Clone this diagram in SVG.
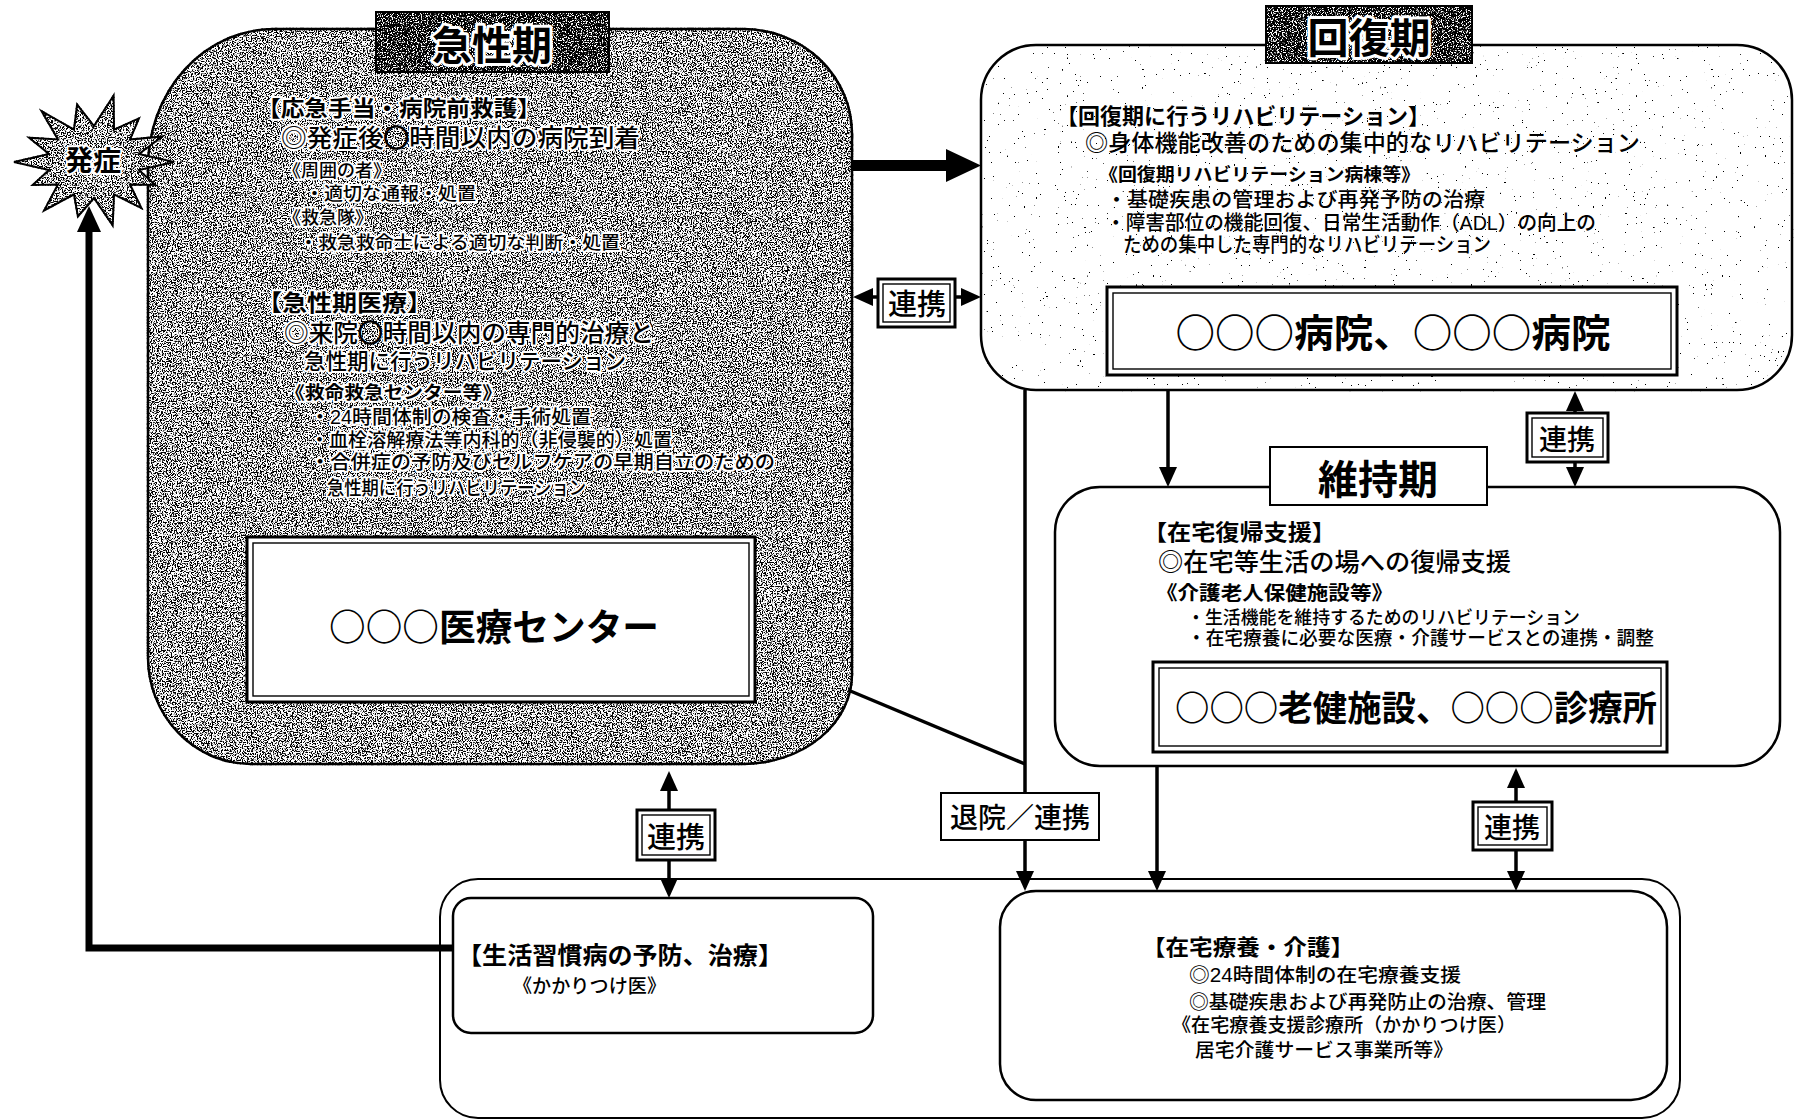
<svg xmlns="http://www.w3.org/2000/svg" width="1798" height="1120" viewBox="0 0 1798 1120">
<defs>
<style>
.jp{font-family:'Liberation Sans','Noto Sans CJK JP',sans-serif;fill:#000;font-weight:500}
.cj{font-family:'Noto Sans CJK JP',sans-serif;font-weight:900;stroke:#000;stroke-width:1.2}
.big{font-family:'Noto Sans CJK JP','Liberation Sans',sans-serif;font-weight:700;text-anchor:middle;fill:#000}
.b{font-weight:700}
.mid{text-anchor:middle}
.halo{stroke:#fff;stroke-width:4;stroke-linejoin:round;paint-order:stroke}
.halo2{stroke:#fff;stroke-width:6;stroke-linejoin:round;paint-order:stroke}
.box{fill:#fff;stroke:#000;stroke-width:2.5}
.thin{fill:none;stroke:#000;stroke-width:1.4}
.dbl{fill:#fff;stroke:#000;stroke-width:3}
.ln{fill:none;stroke:#000;stroke-width:3.5}
</style>
<filter id="tex" x="-2%" y="-2%" width="104%" height="104%" color-interpolation-filters="sRGB">
<feTurbulence type="fractalNoise" baseFrequency="0.8" numOctaves="2" seed="4" result="n"/>
<feColorMatrix in="n" type="matrix" values="0 0 0 0 0 0 0 0 0 0 0 0 0 0 0 -10 0 0 0 5.2" result="k"/>
<feComposite in="k" in2="SourceAlpha" operator="in" result="kc"/>
<feMerge><feMergeNode in="SourceGraphic"/><feMergeNode in="kc"/></feMerge>
</filter>
<filter id="dark" x="-2%" y="-2%" width="104%" height="104%" color-interpolation-filters="sRGB">
<feTurbulence type="fractalNoise" baseFrequency="0.8" numOctaves="2" seed="9" result="n"/>
<feColorMatrix in="n" type="matrix" values="0 0 0 0 0 0 0 0 0 0 0 0 0 0 0 -10 0 0 0 6.3" result="k"/>
<feComposite in="k" in2="SourceAlpha" operator="in" result="kc"/>
<feMerge><feMergeNode in="SourceGraphic"/><feMergeNode in="kc"/></feMerge>
</filter>
<filter id="spk" x="-2%" y="-2%" width="104%" height="104%" color-interpolation-filters="sRGB">
<feTurbulence type="fractalNoise" baseFrequency="0.45" numOctaves="2" seed="2" result="n"/>
<feColorMatrix in="n" type="matrix" values="0 0 0 0 0 0 0 0 0 0 0 0 0 0 0 -40 0 0 0 9.2" result="k"/>
<feComposite in="k" in2="SourceAlpha" operator="in" result="kc"/>
<feMerge><feMergeNode in="SourceGraphic"/><feMergeNode in="kc"/></feMerge>
</filter>
<marker id="ah" viewBox="0 0 20 18" refX="0" refY="9" markerWidth="20" markerHeight="18" markerUnits="userSpaceOnUse" orient="auto-start-reverse">
<path d="M0,0 L20,9 L0,18 Z" fill="#000"/>
</marker>
<marker id="ahb" viewBox="0 0 26 24" refX="0" refY="12" markerWidth="26" markerHeight="24" markerUnits="userSpaceOnUse" orient="auto">
<path d="M0,0 L26,12 L0,24 Z" fill="#000"/>
</marker>
</defs>
<rect width="1798" height="1120" fill="#fff"/>

<g id="outer-container">
<rect x="440" y="879" width="1240" height="239" rx="38" fill="none" stroke="#000" stroke-width="2"/>
</g>

<g id="home-care">
<rect class="box" x="1000" y="891" width="667" height="209" rx="36"/>
<text class="jp b" x="1142" y="955" font-size="22" textLength="212" lengthAdjust="spacingAndGlyphs">【在宅療養・介護】</text>
<text class="jp" x="1189" y="982" font-size="19.5" textLength="272" lengthAdjust="spacingAndGlyphs">◎24時間体制の在宅療養支援</text>
<text class="jp" x="1189" y="1009" font-size="19.5" textLength="357" lengthAdjust="spacingAndGlyphs">◎基礎疾患および再発防止の治療、管理</text>
<text class="jp" x="1172" y="1032" font-size="19" textLength="344" lengthAdjust="spacingAndGlyphs">《在宅療養支援診療所（かかりつけ医）</text>
<text class="jp" x="1195" y="1057" font-size="19" textLength="258" lengthAdjust="spacingAndGlyphs">居宅介護サービス事業所等》</text>
</g>

<g id="lifestyle">
<rect class="box" x="453" y="898" width="420" height="135" rx="18"/>
<text class="jp b" x="457" y="964" font-size="24" textLength="326" lengthAdjust="spacingAndGlyphs">【生活習慣病の予防、治療】</text>
<text class="jp" x="513" y="993" font-size="19" textLength="153" lengthAdjust="spacingAndGlyphs">《かかりつけ医》</text>
</g>

<g id="maintenance">
<rect class="box" x="1055" y="487" width="725" height="279" rx="45"/>
<rect x="1270" y="447" width="217" height="58" fill="#fff" stroke="#000" stroke-width="2"/>
<text class="jp b mid" x="1378" y="494" font-size="40">維持期</text>
<text class="jp b" x="1143" y="540" font-size="22" textLength="193" lengthAdjust="spacingAndGlyphs">【在宅復帰支援】</text>
<text class="jp" x="1158" y="571" font-size="25" textLength="353" lengthAdjust="spacingAndGlyphs">◎在宅等生活の場への復帰支援</text>
<text class="jp b" x="1156" y="600" font-size="19.5" textLength="237" lengthAdjust="spacingAndGlyphs">《介護老人保健施設等》</text>
<text class="jp" x="1187" y="624" font-size="18.5" textLength="393" lengthAdjust="spacingAndGlyphs">・生活機能を維持するためのリハビリテーション</text>
<text class="jp" x="1187" y="645" font-size="19.5" textLength="467" lengthAdjust="spacingAndGlyphs">・在宅療養に必要な医療・介護サービスとの連携・調整</text>
<rect class="dbl" x="1153" y="662" width="514" height="90"/>
<rect class="thin" x="1159" y="668" width="502" height="78"/>
<text class="big" x="1416" y="721" font-size="35" textLength="482" lengthAdjust="spacingAndGlyphs">○○○老健施設、○○○診療所</text>
</g>

<g id="recovery">
<rect x="981" y="45" width="811" height="345" rx="55" fill="#fff" stroke="#000" stroke-width="2.5" filter="url(#spk)"/>
<rect x="1266" y="6" width="206" height="57" fill="#fff" stroke="#000" stroke-width="2" filter="url(#dark)"/>
<text class="jp b mid halo2" x="1369" y="53" font-size="41">回復期</text>
<text class="jp b" x="1056" y="124" font-size="22" textLength="374" lengthAdjust="spacingAndGlyphs">【回復期に行うリハビリテーション】</text>
<text class="jp" x="1085" y="151" font-size="23" textLength="555" lengthAdjust="spacingAndGlyphs">◎身体機能改善のための集中的なリハビリテーション</text>
<text class="jp b" x="1099" y="181" font-size="18" textLength="321" lengthAdjust="spacingAndGlyphs">《回復期リハビリテーション病棟等》</text>
<text class="jp" x="1106" y="207" font-size="20" textLength="379" lengthAdjust="spacingAndGlyphs">・基礎疾患の管理および再発予防の治療</text>
<text class="jp" x="1106" y="230" font-size="20" textLength="490" lengthAdjust="spacingAndGlyphs">・障害部位の機能回復、日常生活動作（ADL）の向上の</text>
<text class="jp" x="1123" y="252" font-size="20" textLength="368" lengthAdjust="spacingAndGlyphs">ための集中した専門的なリハビリテーション</text>
<rect class="dbl" x="1107" y="287" width="570" height="88"/>
<rect class="thin" x="1113" y="293" width="558" height="76"/>
<text class="big" x="1393" y="347" font-size="39" textLength="435" lengthAdjust="spacingAndGlyphs">○○○病院、○○○病院</text>
</g>

<g id="acute">
<path d="M274,29 L743,29 A109,105 0 0 1 852,134 L852,674 A109,90 0 0 1 743,764 L251,764 A103,107 0 0 1 148,657 L148,167 A126,138 0 0 1 274,29 Z" fill="#fff" stroke="#000" stroke-width="2.5" filter="url(#tex)"/>
<rect x="376" y="12" width="233" height="60" fill="#fff" stroke="#000" stroke-width="2" filter="url(#dark)"/>
<text class="jp b mid halo2" x="492" y="60" font-size="40">急性期</text>
<text class="jp b halo" x="257" y="116" font-size="22" textLength="284" lengthAdjust="spacingAndGlyphs">【応急手当・病院前救護】</text>
<text class="jp halo" x="281" y="147" font-size="25" textLength="359" lengthAdjust="spacingAndGlyphs">◎発症後<tspan class="cj">○</tspan>時間以内の病院到着</text>
<text class="jp halo" x="283" y="177" font-size="18">《周囲の者》</text>
<text class="jp halo" x="305" y="200" font-size="18" textLength="171" lengthAdjust="spacingAndGlyphs">・適切な通報・処置</text>
<text class="jp halo" x="283" y="224" font-size="18">《救急隊》</text>
<text class="jp halo" x="299" y="249" font-size="18" textLength="321" lengthAdjust="spacingAndGlyphs">・救急救命士による適切な判断・処置</text>
<text class="jp b halo" x="257" y="311" font-size="23" textLength="175" lengthAdjust="spacingAndGlyphs">【急性期医療】</text>
<text class="jp halo" x="284" y="342" font-size="25" textLength="370" lengthAdjust="spacingAndGlyphs">◎来院<tspan class="cj">○</tspan>時間以内の専門的治療と</text>
<text class="jp halo" x="304" y="369" font-size="22" textLength="322" lengthAdjust="spacingAndGlyphs">急性期に行うリハビリテーション</text>
<text class="jp b halo" x="285" y="399" font-size="18" textLength="217" lengthAdjust="spacingAndGlyphs">《救命救急センター等》</text>
<text class="jp halo" x="310" y="424" font-size="19.5" textLength="281" lengthAdjust="spacingAndGlyphs">・24時間体制の検査・手術処置</text>
<text class="jp halo" x="310" y="447" font-size="19" textLength="362" lengthAdjust="spacingAndGlyphs">・血栓溶解療法等内科的（非侵襲的）処置</text>
<text class="jp halo" x="310" y="469" font-size="19.5" textLength="465" lengthAdjust="spacingAndGlyphs">・合併症の予防及びセルフケアの早期自立のための</text>
<text class="jp halo" x="327" y="495" font-size="19" textLength="259" lengthAdjust="spacingAndGlyphs">急性期に行うリハビリテーション</text>
<rect class="dbl" x="247" y="537" width="508" height="165"/>
<rect class="thin" x="253" y="543" width="496" height="153"/>
<text class="big" x="494" y="641" font-size="37" textLength="330" lengthAdjust="spacingAndGlyphs">○○○医療センター</text>
</g>

<g id="onset">
<polygon points="174,162 138.9,170 155.3,184.9 130,184.5 141.4,208.1 114,194.4 112.7,225.5 94,198 77.9,216.4 74,194.4 44.1,210.5 58,184.5 32.7,184.9 49.1,170 14,162 49.1,154 29.1,137.8 58,139.5 41.6,111.1 74,129.6 77.1,104.6 94,126 113.6,95.5 114,129.6 138.9,118.4 130,139.5 162.5,136.4 138.9,154" fill="#fff" stroke="#000" stroke-width="2" stroke-linejoin="miter" filter="url(#tex)"/>
<text class="jp b mid halo" x="93" y="171" font-size="28">発症</text>
</g>

<g id="connectors">
<path d="M853,160 H946 V149 L981,165.5 L946,182 V171 H853 Z" fill="#000"/>
<line class="ln" x1="873" y1="297" x2="961" y2="297" stroke-width="3" marker-start="url(#ah)" marker-end="url(#ah)"/>
<line class="ln" x1="1168" y1="390" x2="1168" y2="467" stroke-width="4.5" marker-end="url(#ah)"/>
<line class="ln" x1="1575" y1="411" x2="1575" y2="467" marker-start="url(#ah)" marker-end="url(#ah)"/>
<line class="ln" x1="1025" y1="390" x2="1025" y2="871" stroke-width="2.7" marker-end="url(#ah)"/>
<line class="ln" x1="848" y1="690" x2="1025" y2="764" stroke-width="3"/>
<line class="ln" x1="1157" y1="766" x2="1157" y2="871" marker-end="url(#ah)"/>
<line class="ln" x1="1516" y1="788" x2="1516" y2="871" marker-start="url(#ah)" marker-end="url(#ah)"/>
<line class="ln" x1="669" y1="791" x2="669" y2="878" marker-start="url(#ah)" marker-end="url(#ah)"/>
<polyline points="453,948 89,948 89,232" fill="none" stroke="#000" stroke-width="7" stroke-linejoin="miter" marker-end="url(#ahb)"/>

<g id="label-renkei-a">
<rect class="dbl" x="878" y="279" width="77" height="48" stroke-width="2.5"/>
<rect class="thin" x="883" y="284" width="67" height="38"/>
<text class="jp mid" x="917" y="315" font-size="29">連携</text>
</g>
<g id="label-renkei-b">
<rect class="dbl" x="1527" y="413" width="81" height="49" stroke-width="2.5"/>
<rect class="thin" x="1532" y="418" width="71" height="39"/>
<text class="jp mid" x="1567" y="450" font-size="28">連携</text>
</g>
<g id="label-renkei-c">
<rect class="dbl" x="637" y="810" width="78" height="50" stroke-width="2.5"/>
<rect class="thin" x="642" y="815" width="68" height="40"/>
<text class="jp mid" x="676" y="848" font-size="29">連携</text>
</g>
<g id="label-renkei-d">
<rect class="dbl" x="1473" y="802" width="79" height="48" stroke-width="2.5"/>
<rect class="thin" x="1478" y="807" width="69" height="38"/>
<text class="jp mid" x="1512" y="838" font-size="28">連携</text>
</g>
<g id="label-discharge">
<rect x="941" y="793" width="158" height="47" fill="#fff" stroke="#000" stroke-width="2"/>
<text class="jp mid" x="1020" y="828" font-size="28">退院／連携</text>
</g>
</g>
</svg>
